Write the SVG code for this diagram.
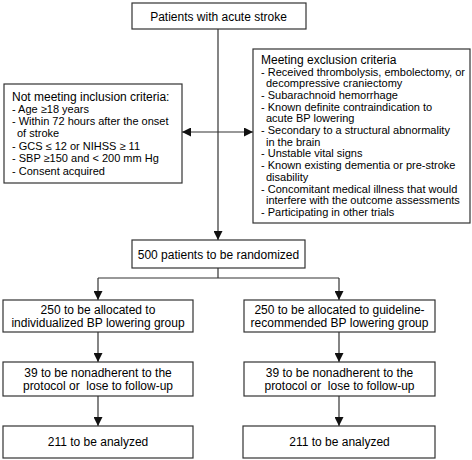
<svg xmlns="http://www.w3.org/2000/svg" width="472" height="460" viewBox="0 0 472 460">
<defs>
<style>
.box{fill:#fff;stroke:#333;stroke-width:1.2}
text{font-family:"Liberation Sans",Arial,sans-serif;fill:#000}
.c{text-anchor:middle;font-size:12px}
.h{font-size:12px}
.i{font-size:11px}
.ln{fill:none;stroke:#333;stroke-width:1.2}
</style>
<marker id="ah" viewBox="0 0 10 10" refX="10" refY="5" markerWidth="9" markerHeight="9" markerUnits="userSpaceOnUse" orient="auto-start-reverse">
<path d="M0,0 L10,5 L0,10 z" fill="#111"/>
</marker>
</defs>
<rect width="472" height="460" fill="#fff"/>
<g id="connectors">
<path class="ln" d="M218,29 V240" marker-end="url(#ah)"/>
<path class="ln" d="M182,132 H253" marker-start="url(#ah)" marker-end="url(#ah)"/>
<path class="ln" d="M218,268 V278 M98,278 H339"/>
<path class="ln" d="M98,278 V300" marker-end="url(#ah)"/>
<path class="ln" d="M339,278 V300" marker-end="url(#ah)"/>
<path class="ln" d="M98,332 V362" marker-end="url(#ah)"/>
<path class="ln" d="M339,332 V362" marker-end="url(#ah)"/>
<path class="ln" d="M98,396 V426" marker-end="url(#ah)"/>
<path class="ln" d="M339,396 V426" marker-end="url(#ah)"/>
</g>
<g id="start">
<rect class="box" x="132" y="3" width="174" height="26"/>
<text class="c" x="218.5" y="20.5">Patients with acute stroke</text>
</g>
<g id="inclusion">
<rect class="box" x="4" y="84" width="178" height="99"/>
<text class="h" x="12" y="101">Not meeting inclusion criteria:</text>
<text class="i" x="12" y="113">- Age ≥18 years</text>
<text class="i" x="12" y="125">- Within 72 hours after the onset</text>
<text class="i" x="17" y="137">of stroke</text>
<text class="i" x="12" y="150">- GCS ≤ 12 or NIHSS ≥ 11</text>
<text class="i" x="12" y="162">- SBP ≥150 and &lt; 200 mm Hg</text>
<text class="i" x="12" y="175">- Consent acquired</text>
</g>
<g id="exclusion">
<rect class="box" x="253" y="49" width="217" height="174"/>
<text class="h" x="261" y="64">Meeting exclusion criteria</text>
<text class="i" x="261" y="75.5">- Received thrombolysis, embolectomy, or</text>
<text class="i" x="266" y="87">decompressive craniectomy</text>
<text class="i" x="261" y="99">- Subarachnoid hemorrhage</text>
<text class="i" x="261" y="110.5">- Known definite contraindication to</text>
<text class="i" x="266" y="122">acute BP lowering</text>
<text class="i" x="261" y="134">- Secondary to a structural abnormality</text>
<text class="i" x="266" y="145.5">in the brain</text>
<text class="i" x="261" y="157">- Unstable vital signs</text>
<text class="i" x="261" y="169">- Known existing dementia or pre-stroke</text>
<text class="i" x="266" y="181">disability</text>
<text class="i" x="261" y="192.5">- Concomitant medical illness that would</text>
<text class="i" x="266" y="204">interfere with the outcome assessments</text>
<text class="i" x="261" y="216">- Participating in other trials</text>
</g>
<g id="randomized">
<rect class="box" x="132" y="240" width="173" height="28"/>
<text class="c" x="218.5" y="258.5">500 patients to be randomized</text>
</g>
<g id="alloc-left">
<rect class="box" x="3" y="300" width="190" height="32"/>
<text class="c" x="98" y="314">250 to be allocated to</text>
<text class="c" x="98" y="327">individualized BP lowering group</text>
</g>
<g id="alloc-right">
<rect class="box" x="244" y="300" width="191" height="32"/>
<text class="c" x="339.5" y="314">250 to be allocated to guideline-</text>
<text class="c" x="339.5" y="327">recommended BP lowering group</text>
</g>
<g id="loss-left">
<rect class="box" x="3" y="362" width="190" height="34"/>
<text class="c" x="98" y="377">39 to be nonadherent to the</text>
<text class="c" x="98" y="390" xml:space="preserve">protocol or  lose to follow-up</text>
</g>
<g id="loss-right">
<rect class="box" x="244" y="362" width="191" height="34"/>
<text class="c" x="339.5" y="377">39 to be nonadherent to the</text>
<text class="c" x="339.5" y="390" xml:space="preserve">protocol or  lose to follow-up</text>
</g>
<g id="analyzed-left">
<rect class="box" x="3" y="426" width="190" height="32"/>
<text class="c" x="98" y="446">211 to be analyzed</text>
</g>
<g id="analyzed-right">
<rect class="box" x="243" y="426" width="192" height="32"/>
<text class="c" x="339.5" y="446">211 to be analyzed</text>
</g>
</svg>
